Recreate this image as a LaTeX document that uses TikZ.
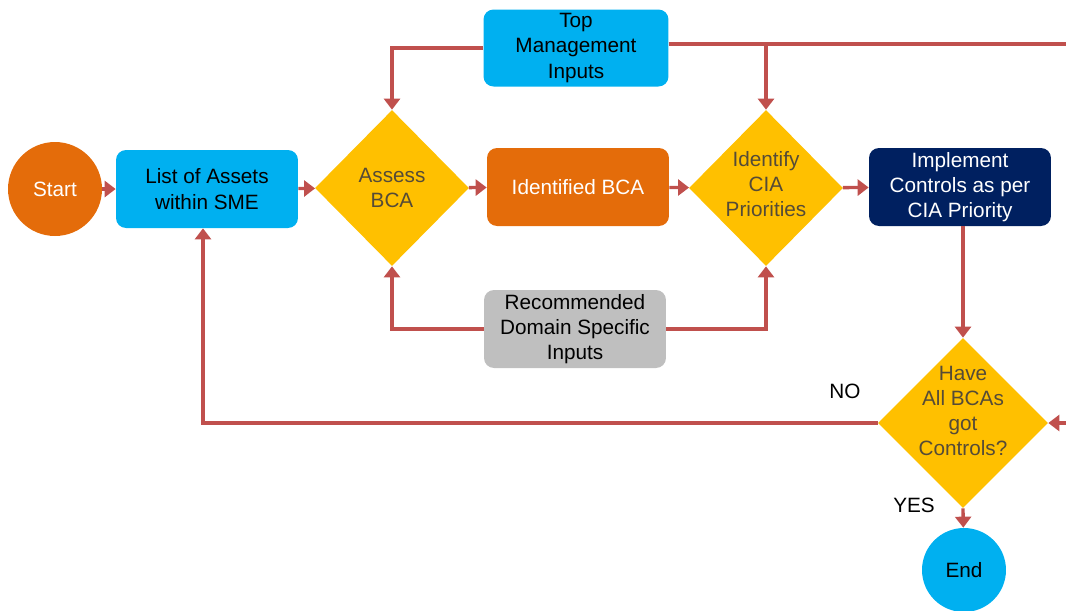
\documentclass[tikz,border=0pt]{standalone}
\usepackage{fontspec}
\setmainfont{Liberation Sans}
\usetikzlibrary{shapes.geometric,arrows.meta}
\definecolor{cyanbox}{RGB}{0,176,240}
\definecolor{orangebox}{RGB}{228,108,10}
\definecolor{navybox}{RGB}{0,32,96}
\definecolor{greybox}{RGB}{191,191,191}
\definecolor{yellowdec}{RGB}{255,192,0}
\definecolor{flowred}{RGB}{192,80,77}
\definecolor{dectxt}{RGB}{85,75,55}
\tikzstyle{arrow} = [draw=flowred, line width=1.9pt, -{Triangle[length=0.22cm, width=0.32cm]}]
\tikzstyle{line} = [draw=flowred, line width=1.9pt]
\tikzstyle{block} = [rectangle, rounded corners=0.2cm, align=center, minimum width=3.64cm, minimum height=1.56cm, inner sep=2pt]
\tikzstyle{decision} = [diamond, fill=yellowdec, minimum width=3.08cm, minimum height=3.12cm, inner sep=0pt]
\tikzstyle{dectext} = [align=center, text=dectxt]
\tikzstyle{terminal} = [circle, inner sep=0pt]

\begin{document}
\begin{tikzpicture}[x=0.02cm, y=-0.02cm, font=\fontsize{11.8}{14.4}\selectfont]
\useasboundingbox (0,0) rectangle (1066,610);

\node[terminal, fill=orangebox, text=white, minimum size=1.88cm] at (55,189) (start) {Start};
\node[block, fill=cyanbox] at (207,189) (assets) {List of Assets\\within SME};
\node[decision, label={[dectext]center:{Assess\\BCA}}] at (392,188) (assess) {};
\node[block, fill=orangebox, text=white] at (578,187) (identified) {Identified BCA};
\node[decision, label={[dectext, yshift=0.08cm]center:{Identify\\CIA\\Priorities}}] at (766,188) (identify) {};
\node[block, fill=navybox, text=white] at (960,187) (implement) {Implement\\Controls as per\\CIA Priority};

\node[block, fill=cyanbox, minimum width=3.7cm, minimum height=1.54cm] at (576,48) (top) {Top\\Management\\Inputs};
\node[block, fill=greybox] at (575,329) (rec) {Recommended\\Domain Specific\\Inputs};

\node[decision, minimum width=3.4cm, minimum height=3.4cm, label={[dectext, yshift=0.24cm]center:{Have\\All BCAs\\got\\Controls?}}] at (963,423) (check) {};
\node[terminal, fill=cyanbox, minimum size=1.68cm] at (964,570) (end) {End};

\node at (845,391) (no) {NO};
\node at (914,505) (yes) {YES};

\coordinate (topend) at (1066,44);
\coordinate (rightin) at (1066,423);

% main flow
\path [arrow] (start) -- (assets);
\path [arrow] (assets) -- (assess);
\path [arrow] (assess) -- (identified);
\path [arrow] (identified) -- (identify);
\path [arrow] (identify) -- (implement);
\path [arrow] (check.north |- implement.south) -- (check.north);
\path [arrow] (check.south) -- (end);

% inputs
\path [arrow] (top.west) -| (assess.north);
\path [line] (top.east |- topend) -- (topend);
\path [arrow] (identify.north |- topend) -- (identify.north);
\path [arrow] (rec.west) -| (assess.south);
\path [arrow] (rec.east) -| (identify.south);

% loop back
\path [arrow] (check.west) -| ([xshift=-0.08cm]assets.south);
\path [arrow] (rightin) -- (check.east);
\end{tikzpicture}
\end{document}
